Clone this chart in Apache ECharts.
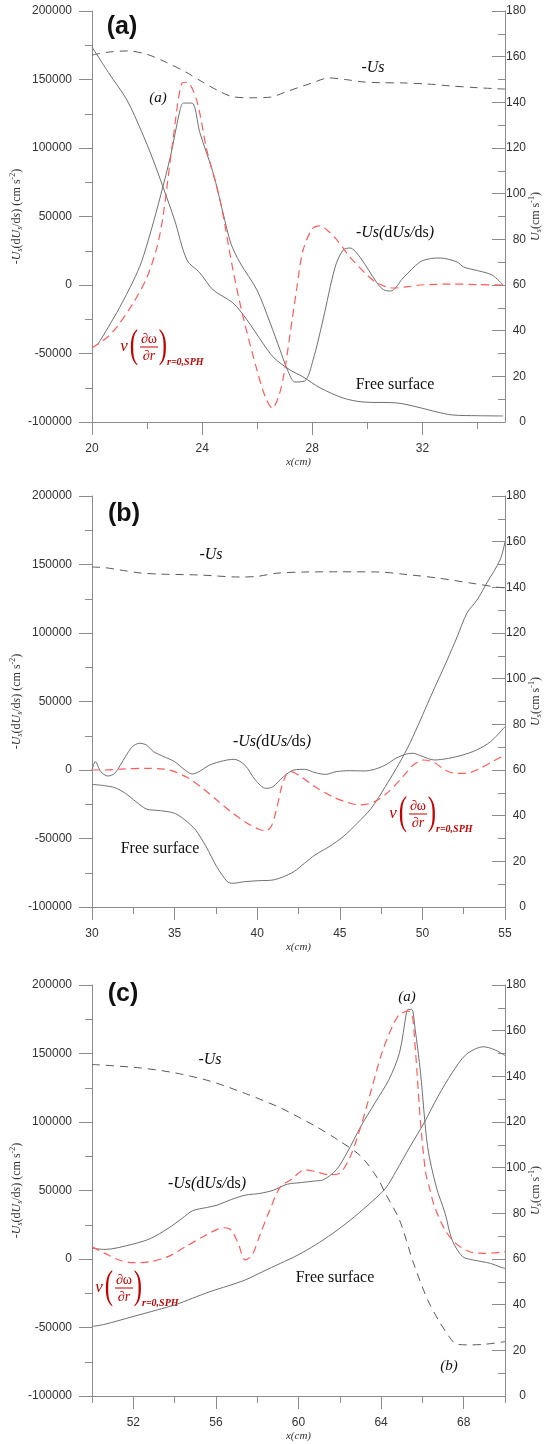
<!DOCTYPE html>
<html>
<head>
<meta charset="utf-8">
<script src="https://cdn.jsdelivr.net/npm/echarts@6/dist/echarts.min.js"></script>
<style>
html, body { margin: 0; padding: 0; background: #fff; }
#chart { width: 549px; height: 1444px; }
</style>
</head>
<body>
<div id="chart"></div>
<script>
// ---- Panel (a): x from 20 to 35 cm ----
const aXMajor = [20, 24, 28, 32];
const aXMinor = [22, 26, 30, 34];
// -Us, cm/s (right axis)
const aUs = [[20,160.7],[20.6,162],[21.3,162.5],[22,161],[22.7,157.5],[23.4,153.3],[24,149],[24.6,145],[25.1,142.5],[25.8,142],[26.5,142.3],[27,144.4],[27.5,146.5],[28,148.5],[28.6,150.7],[29.2,150],[29.8,149],[30.5,148.6],[31.3,148.5],[32.2,148],[33,147.2],[34,146.4],[35,145.8]];
// -Us(dUs/ds), cm/s^2 (left axis)
const aDus = [[20.2,-43800],[20.6,-30500],[21,-16500],[21.5,3000],[21.8,17000],[22.15,40000],[22.5,66000],[22.85,94000],[23.2,128000],[23.32,132800],[23.63,132800],[23.92,111000],[24.4,81800],[24.76,52500],[25.05,30000],[25.38,16100],[25.99,-3600],[26.47,-27700],[26.83,-47400],[27.1,-62000],[27.37,-70800],[27.73,-70000],[28.03,-54700],[28.39,-25500],[28.83,13100],[29.12,25500],[29.37,27000],[29.73,20400],[30.35,1500],[30.6,-3600],[30.85,-4400],[31.3,5100],[31.91,16800],[32.3,19300],[32.64,19700],[33.26,16800],[33.5,13100],[34,10500],[34.53,7300],[34.93,0]];
// nu (d omega / dr) at r = 0, SPH (left axis)
const aNu = [[20,-46000],[20.5,-39000],[20.9,-30700],[21.5,-13100],[22,5800],[22.36,27700],[22.58,50000],[22.94,105800],[23.27,147400],[23.45,148000],[23.8,135000],[24.17,98500],[24.65,62000],[25.12,11000],[25.49,-23400],[25.99,-62000],[26.3,-82000],[26.55,-90000],[26.8,-80000],[27,-62000],[27.2,-35000],[27.44,-2000],[27.66,25000],[28,41000],[28.28,43100],[28.6,39000],[28.9,32800],[29.37,20400],[29.99,7300],[30.35,1500],[30.93,-2200],[31.5,-1200],[31.91,0],[33.1,700],[34,300],[34.93,0]];
// free surface profile (left axis scale)
const aFree = [[20,173700],[20.6,155000],[21.27,135000],[21.8,112000],[22.18,93400],[22.58,71500],[23,47400],[23.45,18200],[23.92,8800],[24.4,-3600],[25.12,-13100],[25.63,-25500],[26.2,-42300],[26.6,-53000],[27.19,-62000],[27.66,-67000],[28.28,-75000],[29.12,-82500],[29.84,-85400],[31.08,-86100],[31.8,-89000],[32.53,-92700],[33.1,-94900],[34,-95400],[34.93,-95600]];

// ---- Panel (b): x from 30 to 55 cm ----
const bXMajor = [30, 35, 40, 45, 50, 55];
const bXMinor = [32.5, 37.5, 42.5, 47.5, 52.5];
const bUs = [[30,148.9],[30.8,148.6],[31.7,147.6],[32.9,146.3],[34.1,145.8],[36.5,145.4],[39,144.5],[40,144.8],[41.2,146.2],[42.8,146.7],[45,146.8],[47.4,146.7],[48.8,145.8],[50.9,144.1],[52.9,141.9],[54.5,140.1],[55,139.8]];
const bDus = [[30,0],[30.2,6100],[30.53,-1200],[30.96,-4400],[31.38,-2400],[32.02,9700],[32.44,17000],[32.87,19500],[33.3,18200],[33.72,13400],[34.36,9700],[35,6100],[35.63,0],[36.06,-2900],[36.48,-1200],[37.12,3600],[37.97,6800],[38.61,7800],[39.25,3600],[39.89,-7300],[40.52,-13400],[40.95,-12200],[41.59,-4900],[42.22,0],[42.86,500],[43.5,-1900],[44.14,-3200],[44.78,-1200],[45.63,-500],[46.48,-700],[47.11,500],[47.75,3600],[48.39,8500],[49.03,11700],[49.45,12200],[49.88,10500],[50.73,7300],[51.58,8500],[52.43,10900],[53.28,14600],[54.13,20700],[55,31600]];
const bNu = [[30,0],[30.74,0],[31.81,700],[33.3,1200],[34.36,700],[35,-1200],[35.85,-6100],[36.7,-13400],[37.55,-21900],[38.4,-30400],[39.25,-37700],[40.1,-43300],[40.52,-44300],[40.84,-41400],[41.16,-29200],[41.48,-12200],[41.8,-2400],[42.01,-1200],[42.65,-4900],[43.5,-12200],[44.56,-19500],[45.63,-24300],[46.26,-25500],[47.11,-23100],[47.96,-15800],[48.82,-4900],[49.45,3600],[50.09,7300],[50.73,5400],[51.37,0],[52,-2400],[52.64,-2400],[53.49,1200],[54.34,6800],[55,10900]];
const bFree = [[30,-10500],[30.74,-11400],[31.38,-12900],[32.02,-17000],[32.66,-23100],[33.3,-28500],[34.15,-29700],[35,-31600],[35.63,-36500],[36.27,-43800],[36.91,-56000],[37.55,-70600],[38.19,-81500],[38.5,-82700],[39.25,-81500],[40.1,-80800],[40.95,-80300],[41.59,-77900],[42.22,-74200],[42.86,-68100],[43.5,-62000],[44.35,-56000],[45.2,-48700],[46.05,-38900],[46.9,-28000],[47.75,-12200],[48.6,4900],[49.24,19500],[49.88,36500],[50.46,52500],[51.5,80300],[52.1,97100],[52.7,114600],[53.3,124000],[53.9,136500],[54.7,153300],[55,166400]];

// ---- Panel (c): x from 50 to 70 cm ----
const cXMajor = [52, 56, 60, 64, 68];
const cXMinor = [50, 54, 58, 62, 66, 70];
const cUs = [[50,145.2],[52.33,143.7],[54.02,141.5],[55.72,137.9],[57.42,132.5],[59.12,126.2],[60.81,118.2],[62,111.6],[63.02,105],[63.87,94.8],[64.21,88.7],[64.89,77.1],[65.57,58.2],[66.25,42.2],[66.76,33.5],[67.27,26.3],[67.61,22.9],[68.12,22.4],[68.96,22.6],[70,23.8]];
const cDus = [[50,7800],[50.63,7000],[51.99,10900],[52.84,15000],[53.68,22300],[54.36,29600],[54.87,35200],[55.55,37600],[56.06,39300],[56.74,43400],[57.42,46600],[58.1,47800],[58.78,50200],[59.46,54600],[60.14,55800],[60.81,57000],[61.15,57500],[61.83,65100],[62.34,77300],[63.02,96800],[63.7,113900],[64.38,131000],[64.89,150500],[65.23,180000],[65.3,182200],[65.48,182200],[65.65,167600],[65.91,135900],[66.25,82200],[66.67,52700],[67.1,33300],[67.44,13800],[67.95,1700],[68.46,-700],[69.3,-3200],[69.81,-6100],[70,-6800]];
const cNu = [[50,9000],[50.63,4100],[51.31,-700],[51.99,-2700],[52.84,-1900],[53.68,1700],[54.53,9000],[55.38,16300],[56.06,21600],[56.4,22800],[56.74,21100],[57.08,11400],[57.42,-700],[57.76,2900],[58.1,16300],[58.61,35700],[59.12,52700],[59.63,57800],[60.3,65100],[60.81,63900],[61.49,61500],[62,62700],[62.51,74900],[63.02,96800],[63.53,123700],[64.04,150500],[64.55,170000],[64.89,178500],[65.31,181000],[65.5,178000],[65.6,165000],[65.74,135900],[65.91,99300],[66.16,62700],[66.33,52700],[66.59,38100],[67.1,21100],[67.61,11400],[68.29,5300],[68.96,4100],[70,5300]];
const cFree = [[50,-49300],[50.63,-47600],[51.99,-42000],[53.17,-37100],[54.02,-33500],[54.87,-28600],[55.72,-23800],[56.57,-19700],[57.42,-15300],[58.27,-9200],[59.12,-3200],[59.97,2900],[60.81,10200],[61.66,18700],[62.51,28400],[63.36,39300],[64.21,51500],[64.72,64000],[65.4,82000],[66.08,99300],[66.76,118800],[67.44,135900],[68.12,149300],[68.96,154900],[69.47,152900],[70,148500]];

const panels = [
  { top: 11,  xMin: 20, xMax: 35, major: aXMajor, minor: aXMinor, us: aUs, dus: aDus, nu: aNu, free: aFree },
  { top: 496, xMin: 30, xMax: 55, major: bXMajor, minor: bXMinor, us: bUs, dus: bDus, nu: bNu, free: bFree },
  { top: 985, xMin: 50, xMax: 70, major: cXMajor, minor: cXMinor, us: cUs, dus: cDus, nu: cNu, free: cFree }
];

const SERIF = "'Liberation Serif', 'DejaVu Serif', serif";
const SANS = "'Liberation Sans', Arial, sans-serif";
const AXIS_GREY = '#8c8c8c';
const LABEL = '#333';
const RED = '#c40000';
const plain = v => String(v);

const axisNameRich = {
  i: { fontFamily: SERIF, fontStyle: 'italic', fontSize: 12, color: LABEL, lineHeight: 15 },
  r: { fontFamily: SERIF, fontSize: 12, color: LABEL, lineHeight: 15 },
  sub: { fontFamily: SERIF, fontStyle: 'italic', fontSize: 8, color: LABEL, lineHeight: 10, verticalAlign: 'bottom' },
  sup: { fontFamily: SERIF, fontSize: 8, color: LABEL, lineHeight: 10, verticalAlign: 'top' }
};

const grids = [], xAxes = [], yAxes = [], series = [];

panels.forEach((p, i) => {
  grids.push({ left: 92, top: p.top, width: 413, height: 411, containLabel: false, outerBoundsMode: 'none' });

  const tickLine = { color: AXIS_GREY, width: 1 };
  xAxes[i] = {
    type: 'value', gridIndex: i, position: 'bottom', min: p.xMin, max: p.xMax,
    axisLine: { show: true, onZero: false, lineStyle: tickLine },
    axisTick: { show: true, length: 13, customValues: p.major, lineStyle: tickLine },
    axisLabel: { customValues: p.major, margin: 21, color: LABEL, fontSize: 12, fontFamily: SANS, formatter: plain },
    splitLine: { show: false },
    name: 'x(cm)', nameLocation: 'middle', nameGap: 35, nameMoveOverlap: false,
    nameTextStyle: { fontFamily: SERIF, fontStyle: 'italic', fontSize: 11, color: LABEL }
  };
  // short ticks between the labelled ones
  xAxes[i + 3] = {
    type: 'value', gridIndex: i, position: 'bottom', min: p.xMin, max: p.xMax,
    axisLine: { show: false, onZero: false },
    axisTick: { show: true, length: 7, customValues: p.minor, lineStyle: tickLine },
    axisLabel: { show: false },
    splitLine: { show: false }
  };

  yAxes[2 * i] = {
    type: 'value', gridIndex: i, position: 'left', min: -100000, max: 200000, interval: 50000,
    axisLine: { show: true, onZero: false, lineStyle: tickLine },
    axisTick: { show: true, length: 13, lineStyle: tickLine },
    minorTick: { show: true, splitNumber: 2, length: 7, lineStyle: tickLine },
    axisLabel: { margin: 20, color: LABEL, fontSize: 12, fontFamily: SANS, formatter: plain },
    splitLine: { show: false }, minorSplitLine: { show: false },
    name: '{i|-U}{sub|s}{r|(d}{i|U}{sub|s}{r|/d}{i|s}{r|) (cm s}{sup|-2}{r|)}',
    nameLocation: 'middle', nameRotate: 90, nameGap: 68, nameMoveOverlap: false,
    nameTextStyle: { rich: axisNameRich }
  };
  yAxes[2 * i + 1] = {
    type: 'value', gridIndex: i, position: 'right', min: 0, max: 180, interval: 20,
    axisLine: { show: true, onZero: false, lineStyle: tickLine },
    axisTick: { show: true, inside: true, length: 13, lineStyle: tickLine },
    minorTick: { show: true, splitNumber: 2, length: 7, lineStyle: tickLine },
    axisLabel: { margin: 21, align: 'right', color: LABEL, fontSize: 12, fontFamily: SANS, formatter: plain },
    splitLine: { show: false }, minorSplitLine: { show: false },
    name: '{i|U}{sub|s}{r|(cm s}{sup|-1}{r|)}',
    nameLocation: 'middle', nameRotate: 90, nameGap: 23, nameMoveOverlap: false,
    nameTextStyle: { rich: axisNameRich }
  };

  const base = { type: 'line', xAxisIndex: i, symbol: 'none', showSymbol: false, silent: true,
                 smooth: 0.3, emphasis: { disabled: true } };
  series.push(Object.assign({}, base, { name: '-Us', yAxisIndex: 2 * i + 1, data: p.us,
    lineStyle: { color: '#5a5a5a', width: 1, type: [8, 6] } }));
  series.push(Object.assign({}, base, { name: 'Free surface', yAxisIndex: 2 * i, data: p.free,
    lineStyle: { color: '#707070', width: 1 } }));
  series.push(Object.assign({}, base, { name: '-Us(dUs/ds)', yAxisIndex: 2 * i, data: p.dus,
    lineStyle: { color: '#707070', width: 1 } }));
  series.push(Object.assign({}, base, { name: 'nu', yAxisIndex: 2 * i, data: p.nu,
    lineStyle: { color: '#ff5c5c', width: 1.2, type: [8, 5] } }));
});

// ---- annotations ----
function txt(x, y, text, font, extra) {
  return Object.assign({
    type: 'text', x: x, y: y, silent: true,
    style: Object.assign({
      text: text, fill: '#111', align: 'center', verticalAlign: 'middle',
      textAlign: 'center', textVerticalAlign: 'middle'
    }, font)
  }, extra || {});
}
const serifItalic = size => ({ fontFamily: SERIF, fontStyle: 'italic', fontSize: size });
const serifPlain = size => ({ fontFamily: SERIF, fontSize: size });
const panelTag = { fontFamily: SANS, fontWeight: 'bold', fontSize: 25 };

function dusLabel(x, y) {
  const it = { fontFamily: SERIF, fontStyle: 'italic', fontSize: 16, fill: '#111', color: '#111' };
  const rm = { fontFamily: SERIF, fontSize: 16, fill: '#111', color: '#111' };
  return txt(x, y, '{i|-Us(}{r|d}{i|Us/}{r|ds}{i|)}', { rich: { i: it, r: rm }, fontSize: 16, fontFamily: SERIF });
}

// nu (d omega / d r)_{r=0,SPH}; (ax, ay) = left edge of nu, vertical centre
function nuLabel(ax, ay) {
  const red = { fill: RED };
  return [
    txt(ax + 4, ay, 'ν', Object.assign(serifItalic(17), red)),
    txt(ax + 14, ay - 1, '(', Object.assign(serifPlain(40), red), { scaleX: 0.62 }),
    txt(ax + 29, ay - 8, '∂ω', Object.assign(serifPlain(14), red)),
    { type: 'line', silent: true, shape: { x1: ax + 20, y1: ay, x2: ax + 38, y2: ay },
      style: { stroke: RED, lineWidth: 1 } },
    txt(ax + 29, ay + 9, '{a|∂}{b|r}', {
      fontFamily: SERIF, fontSize: 14, fill: RED,
      rich: { a: { fontFamily: SERIF, fontSize: 14, fill: RED, color: RED },
              b: { fontFamily: SERIF, fontStyle: 'italic', fontSize: 14, fill: RED, color: RED } }
    }),
    txt(ax + 43, ay - 1, ')', Object.assign(serifPlain(40), red), { scaleX: 0.62 }),
    txt(ax + 47, ay + 15, 'r=0,SPH', { fontFamily: SERIF, fontStyle: 'italic', fontWeight: 'bold',
      fontSize: 10, fill: RED, align: 'left', textAlign: 'left' })
  ];
}

const graphics = [
  // panel (a)
  txt(122, 27, '(a)', panelTag),
  txt(373, 68, '-Us', serifItalic(16)),
  txt(158, 98, '(a)', serifItalic(15)),
  dusLabel(395, 233),
  txt(395, 385, 'Free surface', serifPlain(16)),
  ...nuLabel(120, 347),
  // panel (b)
  txt(124, 514, '(b)', panelTag),
  txt(211, 555, '-Us', serifItalic(16)),
  dusLabel(272, 742),
  txt(160, 849, 'Free surface', serifPlain(16)),
  ...nuLabel(389, 814),
  // panel (c)
  txt(123, 994, '(c)', panelTag),
  txt(407, 997, '(a)', serifItalic(15)),
  txt(210, 1060, '-Us', serifItalic(16)),
  dusLabel(207, 1184),
  txt(335, 1278, 'Free surface', serifPlain(16)),
  ...nuLabel(95, 1288),
  txt(449, 1366, '(b)', serifItalic(15))
];

const chart = echarts.init(document.getElementById('chart'), null, { renderer: 'canvas' });
chart.setOption({
  animation: false,
  backgroundColor: '#fff',
  grid: grids,
  xAxis: xAxes,
  yAxis: yAxes,
  series: series,
  graphic: { elements: graphics }
});
</script>
</body>
</html>
